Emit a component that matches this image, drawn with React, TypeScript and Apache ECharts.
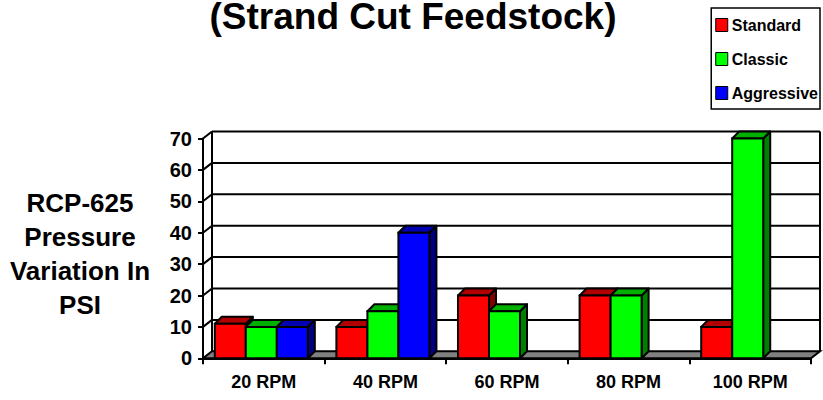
import React, { useEffect, useRef } from "react";
import * as echarts from "echarts";

const categories = ["20 RPM", "40 RPM", "60 RPM", "80 RPM", "100 RPM"];
const seriesNames = ["Standard", "Classic", "Aggressive"];
const standardValues: (number | null)[] = [11, 10, 20, 20, 10];
const classicValues: (number | null)[] = [10, 15, 15, 20, 70];
const aggressiveValues: (number | null)[] = [10, 40, null, null, null];
const yTicks = [0, 10, 20, 30, 40, 50, 60, 70];
const titleText = "(Strand Cut Feedstock)";
const yAxisTitle = "RCP-625\nPressure\nVariation In\nPSI";

const FONT = "Liberation Sans";
const FRONT = ["#FF0000", "#00FF00", "#0000FF"];
const TOP = ["#B00000", "#00B000", "#0000B0"];
const SIDE = ["#800000", "#008000", "#000080"];
const WDX = 9; // wall depth (x)
const WDY = 7; // wall depth (y)
const BDX = 7; // bar depth (x)
const BDY = 7; // bar depth (y)

function renderWalls(params: any, api: any) {
  const cs = params.coordSys;
  const x0 = cs.x;
  const x1 = cs.x + cs.width;
  const yMax = yTicks[yTicks.length - 1];
  const yTop = api.coord([0, yMax])[1];
  const yZero = api.coord([0, 0])[1];
  const children: any[] = [];
  children.push({
    type: "polygon",
    shape: {
      points: [
        [x0, yZero],
        [x1, yZero],
        [x1 + WDX, yZero - WDY],
        [x0 + WDX, yZero - WDY],
      ],
    },
    style: { fill: "#808080", stroke: "#000", lineWidth: 2 },
  });
  yTicks.forEach((v) => {
    if (v === 0) return;
    const y = api.coord([0, v])[1];
    children.push({
      type: "line",
      shape: { x1: x0, y1: y, x2: x0 + WDX, y2: y - WDY },
      style: { stroke: "#000", lineWidth: 2 },
    });
    children.push({
      type: "line",
      shape: { x1: x0 + WDX, y1: y - WDY, x2: x1 + WDX, y2: y - WDY },
      style: { stroke: "#000", lineWidth: 2 },
    });
  });
  children.push({
    type: "line",
    shape: { x1: x0 + WDX, y1: yTop - WDY, x2: x0 + WDX, y2: yZero - WDY },
    style: { stroke: "#000", lineWidth: 2 },
  });
  children.push({
    type: "line",
    shape: { x1: x1 + WDX, y1: yTop - WDY, x2: x1 + WDX, y2: yZero - WDY },
    style: { stroke: "#000", lineWidth: 2 },
  });
  return { type: "group", children };
}

function makeBarRender(si: number) {
  return (params: any, api: any) => {
    const ci = api.value(0);
    const v = api.value(1);
    if (v == null || isNaN(v)) return null;
    const band = api.size([1, 0])[0];
    const base = api.coord([ci, 0]);
    const yb = base[1];
    const yt = api.coord([ci, v])[1];
    const w = band * 0.255;
    const xl = base[0] - band / 2 + band * 0.097 + si * w;
    const xr = xl + w;
    return {
      type: "group",
      children: [
        {
          type: "polygon",
          shape: {
            points: [
              [xr, yb],
              [xr + BDX, yb - BDY],
              [xr + BDX, yt - BDY],
              [xr, yt],
            ],
          },
          style: { fill: SIDE[si], stroke: "#000", lineWidth: 2, lineJoin: "round" },
        },
        {
          type: "polygon",
          shape: {
            points: [
              [xl, yt],
              [xr, yt],
              [xr + BDX, yt - BDY],
              [xl + BDX, yt - BDY],
            ],
          },
          style: { fill: TOP[si], stroke: "#000", lineWidth: 2, lineJoin: "round" },
        },
        {
          type: "rect",
          shape: { x: xl, y: yt, width: w, height: yb - yt },
          style: { fill: FRONT[si], stroke: "#000", lineWidth: 2 },
        },
      ],
    };
  };
}

export default function App() {
  const ref = useRef<HTMLDivElement>(null);
  useEffect(() => {
    if (!ref.current) return;
    const chart = echarts.init(ref.current, null, { renderer: "svg" });
    const allValues = [standardValues, classicValues, aggressiveValues];
    const barSeries = allValues.map((vals, si) => ({
      type: "custom",
      name: seriesNames[si],
      renderItem: makeBarRender(si),
      encode: { x: 0, y: 1 },
      clip: false,
      z: 3,
      itemStyle: { color: FRONT[si], borderColor: "#000", borderWidth: 1 },
      data: vals
        .map((v, i) => (v == null ? null : [i, v]))
        .filter((d) => d !== null),
    }));
    chart.setOption({
      animation: false,
      backgroundColor: "#fff",
      textStyle: { fontFamily: FONT },
      grid: { left: 203, right: 12, top: 138.5, bottom: 41.7, containLabel: false },
      legend: {
        data: seriesNames,
        orient: "vertical",
        right: 3,
        top: 8,
        icon: "rect",
        itemWidth: 12,
        itemHeight: 13,
        itemGap: 18,
        padding: [9, 2, 8, 4],
        borderColor: "#000",
        borderWidth: 1.5,
        itemStyle: { borderColor: "#000", borderWidth: 1 },
        textStyle: { fontFamily: FONT, fontWeight: "bold", fontSize: 16, color: "#000", padding: [0, 0, 0, -1] },
      },
      xAxis: {
        type: "category",
        data: categories,
        boundaryGap: true,
        axisLine: { show: true, lineStyle: { color: "#000", width: 2 } },
        axisTick: { show: true, alignWithLabel: false, length: 6, lineStyle: { color: "#000", width: 2 } },
        axisLabel: { fontFamily: FONT, fontWeight: "bold", fontSize: 18, color: "#000", margin: 15 },
        splitLine: { show: false },
      },
      yAxis: {
        type: "value",
        min: 0,
        max: 70,
        interval: 10,
        axisLine: { show: true, lineStyle: { color: "#000", width: 2 } },
        axisTick: { show: true, length: 5, lineStyle: { color: "#000", width: 2 } },
        axisLabel: { fontFamily: FONT, fontWeight: "bold", fontSize: 20, color: "#000", margin: 11, padding: [3, 0, 0, 0] },
        splitLine: { show: false },
      },
      graphic: [
        {
          type: "text",
          x: 413,
          y: 16,
          style: {
            text: titleText,
            fontFamily: FONT,
            fontWeight: "bold",
            fontSize: 37,
            fill: "#000",
            align: "center",
            verticalAlign: "middle",
          },
        },
        {
          type: "text",
          x: 80,
          y: 254,
          style: {
            text: yAxisTitle,
            fontFamily: FONT,
            fontWeight: "bold",
            fontSize: 26,
            lineHeight: 34,
            fill: "#000",
            align: "center",
            verticalAlign: "middle",
          },
        },
      ],
      series: [
        {
          type: "custom",
          name: "walls",
          renderItem: renderWalls,
          encode: { x: 0, y: 1 },
          clip: false,
          z: 1,
          silent: true,
          data: [[0, 0]],
        },
        ...barSeries,
      ],
    });
    return () => chart.dispose();
  }, []);
  return (
    <div
      ref={ref}
      style={{ position: "fixed", left: 0, top: 0, width: 823, height: 400 }}
    />
  );
}
